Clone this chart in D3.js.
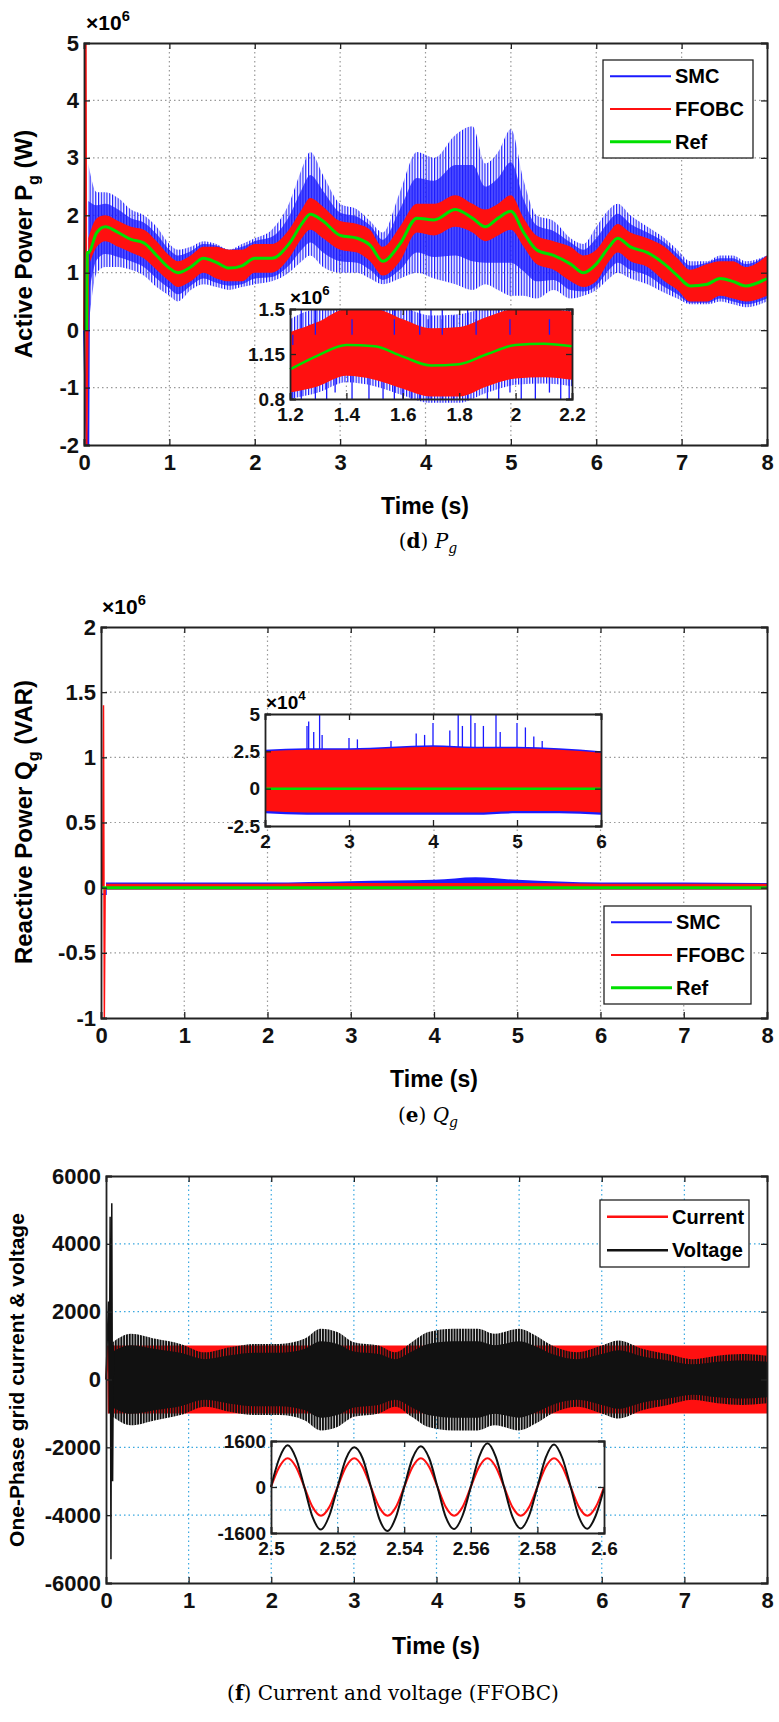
<!DOCTYPE html>
<html><head><meta charset="utf-8">
<script src="https://cdn.jsdelivr.net/npm/d3@7"></script>
<style>
body{margin:0;background:#fff}
text{font-family:"Liberation Sans",Arial,sans-serif;font-weight:bold}
.cap{font-family:"DejaVu Serif","Liberation Serif",serif;font-weight:normal}
</style></head><body>
<script>
// ---- panel d: active power (x1e6)
const dTime = [0.05,0.15,0.25,0.4,0.55,0.7,0.85,1.0,1.1,1.25,1.4,1.55,1.7,1.85,2.0,2.2,2.4,2.55,2.65,2.8,3.0,3.2,3.35,3.5,3.7,3.9,4.1,4.35,4.55,4.7,4.85,5.0,5.15,5.3,5.5,5.7,5.85,6.0,6.15,6.25,6.4,6.6,6.8,6.95,7.1,7.3,7.45,7.6,7.75,8.0]
const dRef  = [1.35,1.7,1.8,1.7,1.58,1.52,1.3,1.08,1.0,1.1,1.25,1.18,1.08,1.12,1.25,1.25,1.5,1.85,2.02,1.9,1.65,1.6,1.48,1.2,1.5,1.95,1.92,2.1,1.95,1.8,1.95,2.07,1.7,1.4,1.3,1.15,1.0,1.15,1.45,1.6,1.45,1.35,1.15,0.95,0.77,0.8,0.9,0.85,0.77,0.9]
const dSmcHi= [2.9,2.4,2.4,2.3,2.1,2.0,1.8,1.5,1.4,1.45,1.55,1.5,1.4,1.5,1.6,1.75,2.2,2.8,3.1,2.7,2.2,2.1,1.9,1.7,2.4,3.1,3.0,3.4,3.55,2.9,3.1,3.5,2.6,2.0,1.9,1.6,1.5,1.8,2.1,2.2,2.0,1.8,1.6,1.4,1.2,1.2,1.3,1.3,1.2,1.3]
const dSmcLo= [0.0,1.0,1.1,1.1,1.05,0.95,0.75,0.6,0.5,0.7,0.8,0.75,0.7,0.75,0.8,0.85,1.0,1.2,1.3,1.1,1.0,1.0,0.9,0.8,0.9,1.0,0.9,0.8,0.7,0.8,0.7,0.6,0.6,0.55,0.7,0.55,0.6,0.7,0.9,1.0,0.9,0.8,0.65,0.55,0.45,0.45,0.5,0.45,0.4,0.5]
const dFfHi = [1.6,1.95,2.0,1.9,1.8,1.75,1.55,1.3,1.2,1.3,1.45,1.45,1.4,1.4,1.5,1.5,1.75,2.1,2.3,2.15,1.9,1.85,1.75,1.45,1.8,2.2,2.2,2.35,2.2,2.1,2.2,2.35,1.95,1.65,1.55,1.45,1.3,1.4,1.7,1.85,1.7,1.6,1.45,1.25,1.05,1.15,1.2,1.2,1.1,1.3]
const dFfLo = [1.1,1.45,1.55,1.45,1.35,1.25,1.05,0.85,0.75,0.85,1.0,0.9,0.85,0.85,1.0,1.0,1.25,1.6,1.75,1.6,1.4,1.35,1.2,0.95,1.2,1.7,1.65,1.8,1.7,1.55,1.65,1.75,1.45,1.15,1.05,0.85,0.75,0.85,1.2,1.35,1.2,1.1,0.85,0.7,0.5,0.5,0.6,0.55,0.5,0.6]
const dStartRed  = [[0,0],[0.02,5],[0.03,-2],[0.05,1.35]]
const dStartBlue = [[0,0],[0.03,-2],[0.05,-2],[0.06,1.4]]
// inset d
const diTime = [1.2,1.3,1.4,1.5,1.6,1.7,1.8,1.9,2.0,2.1,2.2]
const diRef  = [1.03,1.14,1.22,1.21,1.13,1.06,1.07,1.15,1.22,1.23,1.21]
const diFfHi = [1.32,1.4,1.5,1.5,1.42,1.35,1.36,1.44,1.5,1.5,1.48]
const diFfLo = [0.85,0.9,0.98,0.95,0.88,0.82,0.82,0.9,0.96,0.97,0.95]
const diSpikeT  = [1.21,1.24,1.27,1.29,1.33,1.36,1.42,1.48,1.53,1.57,1.6,1.63,1.66,1.69,1.7,1.74,1.78,1.83,1.86,1.9,1.94,1.98,2.02,2.07,2.12,2.16,2.19]
const diSpikeHi = [1.3,1.5,1.38,1.5,1.35,1.42,1.5,1.45,1.5,1.5,1.4,1.5,1.5,1.42,1.5,1.5,1.45,1.5,1.5,1.38,1.5,1.5,1.5,1.5,1.5,1.5,1.5]
const diSpikeLo = [0.8,0.8,0.9,0.8,0.8,0.85,0.8,0.8,0.8,0.8,0.8,0.8,0.8,0.8,0.8,0.8,0.8,0.8,0.9,0.8,0.8,0.85,0.8,0.8,0.85,0.8,0.8]

// ---- panel e: reactive power (x1e6)
const eTime = [0.06,1,2,3,4,4.5,5,6,7,8]
const eFfHi = [0.03,0.03,0.03,0.035,0.035,0.035,0.035,0.03,0.03,0.03]
const eFfLo = [-0.015,-0.015,-0.015,-0.015,-0.015,-0.015,-0.015,-0.015,-0.015,-0.015]
const eSmcHi= [0.04,0.04,0.04,0.05,0.06,0.08,0.06,0.04,0.04,0.035]
const eStartRed  = [[0.02,0],[0.03,1.4],[0.04,-1],[0.05,0]]
const eStartBlue = [[0,-0.05],[0.06,-0.05],[0.06,0]]
// inset e (x1e4)
const eiTime = [2,2.5,3,3.5,4,4.5,5,5.5,6]
const eiFfHi = [2.5,2.6,2.6,2.7,2.8,2.7,2.7,2.6,2.4]
const eiFfLo = [-1.5,-1.6,-1.6,-1.6,-1.6,-1.6,-1.5,-1.5,-1.6]
const eiSpikeT = [2.5,2.52,2.58,2.65,2.68,3.0,3.1,3.5,3.8,3.9,4.0,4.2,4.3,4.35,4.45,4.5,4.6,4.75,4.8,5.0,5.1,5.2,5.3]
const eiSpikeV = [4.2,4.5,3.8,5,3.6,3.4,3.3,3.2,3.7,3.6,4.4,3.9,5,4.2,5,4.4,4.2,5,3.8,4.4,4.1,3.5,3.2]

// ---- panel f: grid current / voltage
const fTime = [0.08,0.3,0.6,0.9,1.2,1.5,1.8,2.1,2.4,2.6,2.8,3.0,3.3,3.5,3.7,3.9,4.2,4.5,4.7,5.0,5.2,5.4,5.7,6.0,6.2,6.5,6.8,7.1,7.4,7.7,8.0]
const fVolt = [1100,1350,1200,1050,800,950,1050,1050,1200,1500,1400,1100,1000,800,1100,1400,1500,1500,1350,1500,1300,1000,800,1000,1150,900,750,600,700,750,700]
const fCurr = [1000,1000,1000,1000,1000,1000,1000,1000,1000,1000,1000,1000,1000,1000,1000,1000,1000,1000,1000,1000,1000,1000,1000,1000,1000,1000,1000,1000,1000,1000,1000]
const fStartV = [[0,0],[0.03,2300],[0.04,-1000],[0.05,4800],[0.06,-5300],[0.07,5200],[0.08,-3000],[0.09,1000]]
// inset f (samples every 2.5 ms)
const fiTime = d3.range(41).map(i => 2.5 + i * 0.0025)
const fiCurr = [0,700,1000,700,0,-700,-1000,-700,0,700,1000,700,0,-700,-1000,-700,0,700,1000,700,0,-700,-1000,-700,0,700,1000,700,0,-700,-1000,-700,0,700,1000,700,0,-700,-1000,-700,0]
const fiVolt = [0,1000,1450,1000,0,-1050,-1480,-1000,0,980,1380,1000,0,-1100,-1530,-1050,0,1000,1420,1000,0,-1050,-1460,-1000,0,1050,1520,1050,0,-1030,-1440,-1000,0,1020,1480,1000,0,-1050,-1450,-1000,-50]

const svg = d3.select('body').append('svg').attr('width', 779).attr('height', 1722)

// striped fills to mimic dense switching noise
const defs = svg.append('defs')
function stripes(id, col, w, gap) {
  const p = defs.append('pattern').attr('id', id).attr('patternUnits', 'userSpaceOnUse').attr('width', w + gap).attr('height', 10)
  p.append('rect').attr('width', w).attr('height', 10).attr('fill', col)
}
stripes('blueNoise', '#1a1aff', 1.2, 1.6)
stripes('blackNoise', '#111', 2, 0.8)

function panel(o) {
  const x = d3.scaleLinear().domain(o.xd).range([o.l, o.r])
  const y = d3.scaleLinear().domain(o.yd).range([o.b, o.t])
  const g = svg.append('g')
  if (o.grid) {
    g.selectAll('.gx').data(o.xt.slice(1, -1)).enter().append('line')
      .attr('x1', d => x(d)).attr('x2', d => x(d)).attr('y1', o.t).attr('y2', o.b)
      .attr('stroke', o.grid).attr('stroke-dasharray', '1.5,3').attr('stroke-width', 1.2)
    g.selectAll('.gy').data(o.yt.slice(1, -1)).enter().append('line')
      .attr('y1', d => y(d)).attr('y2', d => y(d)).attr('x1', o.l).attr('x2', o.r)
      .attr('stroke', o.grid).attr('stroke-dasharray', '1.5,3').attr('stroke-width', 1.2)
  }
  return {x, y, g}
}
function frame(o, p, fs) {
  p.g.append('g').attr('transform', `translate(0,${o.b})`)
    .call(d3.axisBottom(p.x).tickValues(o.xt).tickSize(-6).tickPadding(9).tickFormat(d => d))
  p.g.append('g').attr('transform', `translate(${o.l},0)`)
    .call(d3.axisLeft(p.y).tickValues(o.yt).tickSize(-6).tickPadding(5).tickFormat(d => d))
  p.g.append('g').attr('transform', `translate(0,${o.t})`)
    .call(d3.axisTop(p.x).tickValues(o.xt).tickSize(-6).tickFormat(''))
  p.g.append('g').attr('transform', `translate(${o.r},0)`)
    .call(d3.axisRight(p.y).tickValues(o.yt).tickSize(-6).tickFormat(''))
  p.g.selectAll('.domain').attr('stroke', '#222').attr('stroke-width', 1.8)
  p.g.selectAll('.tick line').attr('stroke', '#222').attr('stroke-width', 1.3)
  p.g.selectAll('.tick text').attr('font-size', fs).attr('font-family', '"Liberation Sans",Arial').attr('font-weight', 'bold').attr('fill', '#111')
}
function band(p, t, hi, lo, col, op) {
  p.g.append('path').datum(t.map((d, i) => [d, hi[i], lo[i]]))
    .attr('d', d3.area().x(d => p.x(d[0])).y0(d => p.y(d[2])).y1(d => p.y(d[1])).curve(d3.curveMonotoneX))
    .attr('fill', col).attr('opacity', op || 1)
}
function line(p, pts, col, w, curve) {
  p.g.append('path').datum(pts)
    .attr('d', d3.line().x(d => p.x(d[0])).y(d => p.y(d[1])).curve(curve || d3.curveLinear))
    .attr('fill', 'none').attr('stroke', col).attr('stroke-width', w)
}
function spikes(p, t, a, b, col) {
  p.g.selectAll(null).data(t.map((d, i) => [d, a[i], b[i]])).enter().append('line')
    .attr('x1', d => p.x(d[0])).attr('x2', d => p.x(d[0])).attr('y1', d => p.y(d[1])).attr('y2', d => p.y(d[2]))
    .attr('stroke', col).attr('stroke-width', 1.3)
}
function whiteBox(o) {
  svg.append('rect').attr('x', o.l).attr('y', o.t).attr('width', o.r - o.l).attr('height', o.b - o.t).attr('fill', '#fff')
}
function legend(x0, y0, w, h, items) {
  const g = svg.append('g')
  g.append('rect').attr('x', x0).attr('y', y0).attr('width', w).attr('height', h).attr('fill', '#fff').attr('stroke', '#222').attr('stroke-width', 1.3)
  items.forEach((it, i) => {
    const yy = y0 + h / (items.length) * (i + 0.5)
    g.append('line').attr('x1', x0 + 7).attr('x2', x0 + 68).attr('y1', yy).attr('y2', yy).attr('stroke', it[1]).attr('stroke-width', it[2])
    g.append('text').attr('x', x0 + 72).attr('y', yy + 7).attr('font-size', 20).text(it[0])
  })
}
function ylabel(x, y, parts, fs) {
  const t = svg.append('text').attr('transform', `translate(${x},${y}) rotate(-90)`).attr('text-anchor', 'middle').attr('font-size', fs)
  parts.forEach(pp => { const s = t.append('tspan').text(pp[0]); if (pp[1]) s.attr('font-size', fs * 0.67).attr('dy', 7); if (pp[2]) s.attr('dy', -7) })
}
function mult(x, y, e, fs) {
  const t = svg.append('text').attr('x', x).attr('y', y).attr('font-size', fs).attr('font-weight', 'normal')
  t.append('tspan').text('×10')
  t.append('tspan').text(e).attr('font-size', fs * 0.7).attr('dy', -fs * 0.45)
}
function xlabel(x, y) { svg.append('text').attr('x', x).attr('y', y).attr('text-anchor', 'middle').attr('font-size', 23).text('Time (s)') }

// ===== panel d
const od = {l: 84, r: 767, t: 43, b: 445, xd: [0, 8], yd: [-2, 5], xt: d3.range(0, 9), yt: d3.range(-2, 6), grid: '#999'}
const pd = panel(od)
band(pd, dTime, dSmcHi, dSmcLo, 'url(#blueNoise)')
band(pd, dTime, dSmcHi.map((v, i) => (v + dFfHi[i]) / 2), dSmcLo.map((v, i) => (v + dFfLo[i]) / 2), '#1a1aff', 0.75)
band(pd, dTime, dFfHi, dFfLo, '#ff1010')
line(pd, dStartBlue, '#1a1aff', 2)
line(pd, dStartRed, '#ff1010', 2)
line(pd, [[0.03, 0], [0.04, 1.35]].concat(dTime.map((d, i) => [d, dRef[i]])), '#00e000', 3, d3.curveMonotoneX)
frame(od, pd, 22)
mult(86, 30, '6', 21)
ylabel(32, 244, [['Active Power P'], ['g', 1], [' (W)', 0, 1]], 24)
xlabel(425, 514)
legend(603, 60, 150, 98, [['SMC', '#1a1aff', 2], ['FFOBC', '#ff1010', 2], ['Ref', '#00e000', 3]])
// inset d
const oid = {l: 290, r: 572, t: 309, b: 399, xd: [1.2, 2.2], yd: [0.8, 1.5], xt: [1.2, 1.4, 1.6, 1.8, 2, 2.2], yt: [0.8, 1.15, 1.5], grid: '#999'}
whiteBox(oid)
const pid = panel(oid)
band(pid, diTime, diFfHi.map(v => Math.min(1.5, v + 0.1)), diFfLo.map(v => v - 0.05), 'url(#blueNoise)')
spikes(pid, diSpikeT, diSpikeHi, diSpikeLo, '#1a1aff')
band(pid, diTime, diFfHi, diFfLo, '#ff1010')
const keep = (d, i) => i % 3 === 0
spikes(pid, diSpikeT.filter(keep), diSpikeHi.filter(keep).map(v => v - 0.08), diSpikeT.filter(keep).map(() => 1.3), '#1a1aff')
line(pid, diTime.map((d, i) => [d, diRef[i]]), '#00e000', 2.5, d3.curveMonotoneX)
frame(oid, pid, 19)
mult(290, 304, '6', 19)

// ===== panel e
const oe = {l: 101, r: 767, t: 627, b: 1018, xd: [0, 8], yd: [-1, 2], xt: d3.range(0, 9), yt: [-1, -0.5, 0, 0.5, 1, 1.5, 2], grid: '#999'}
const pe = panel(oe)
band(pe, eTime, eSmcHi, eFfLo, '#1a1aff')
band(pe, eTime, eFfHi, eFfLo, '#ff1010')
line(pe, eStartBlue, '#1a1aff', 1.5)
line(pe, eStartRed, '#ff1010', 1.5)
line(pe, [[0, 0], [8, 0]], '#00e000', 3)
frame(oe, pe, 22)
mult(102, 614, '6', 21)
ylabel(32, 822, [['Reactive Power Q'], ['g', 1], [' (VAR)', 0, 1]], 24)
xlabel(434, 1087)
legend(604, 906, 147, 98, [['SMC', '#1a1aff', 2], ['FFOBC', '#ff1010', 2], ['Ref', '#00e000', 3]])
// inset e
const oie = {l: 265, r: 601, t: 714, b: 826, xd: [2, 6], yd: [-2.5, 5], xt: [2, 3, 4, 5, 6], yt: [-2.5, 0, 2.5, 5], grid: null}
whiteBox(oie)
const pie = panel(oie)
spikes(pie, eiSpikeT, eiSpikeV, eiSpikeV.map(() => 2), '#1a1aff')
band(pie, eiTime, eiFfHi.map(v => v + 0.1), eiFfLo.map(v => v - 0.15), '#1a1aff')
band(pie, eiTime, eiFfHi, eiFfLo, '#ff1010')
line(pie, [[2, 0], [6, 0]], '#00e000', 2.5)
frame(oie, pie, 19)
mult(266, 709, '4', 19)

// ===== panel f
const of = {l: 106, r: 767, t: 1176, b: 1583, xd: [0, 8], yd: [-6000, 6000], xt: d3.range(0, 9), yt: d3.range(-6000, 6001, 2000), grid: '#3aa8e0'}
const pf = panel(of)
band(pf, fTime, fCurr, fCurr.map(v => -v), '#ff1010')
band(pf, fTime, fVolt, fVolt.map(v => -v), 'url(#blackNoise)')
band(pf, fTime, fVolt.map(v => v * 0.75), fVolt.map(v => -v * 0.75), '#111')
line(pf, [[0, 0], [0.02, 1000], [0.03, -1000], [0.04, 1000]], '#ff1010', 1.5)
line(pf, fStartV, '#111', 1.5)
frame(of, pf, 22)
ylabel(24, 1380, [['One-Phase grid current & voltage']], 21)
xlabel(436, 1654)
legend(600, 1200, 149, 67, [['Current', '#ff1010', 2.5], ['Voltage', '#111', 2.5]])
// inset f
const oif = {l: 271, r: 604, t: 1441, b: 1533, xd: [2.5, 2.6], yd: [-1600, 1600], xt: [2.5, 2.52, 2.54, 2.56, 2.58, 2.6], yt: [-1600, 0, 1600], grid: '#3aa8e0'}
whiteBox(oif)
const pif = panel(oif)
pif.g.selectAll(null).data([-800, 800]).enter().append('line').attr('x1', oif.l).attr('x2', oif.r)
  .attr('y1', d => pif.y(d)).attr('y2', d => pif.y(d)).attr('stroke', '#3aa8e0').attr('stroke-dasharray', '1.5,3')
line(pif, fiTime.map((d, i) => [d, fiCurr[i]]), '#ff1010', 2, d3.curveCardinal)
line(pif, fiTime.map((d, i) => [d, fiVolt[i]]), '#111', 2, d3.curveCardinal)
frame(oif, pif, 19)

// captions
const cap = (x, y) => svg.append('text').attr('class', 'cap').attr('x', x).attr('y', y).attr('text-anchor', 'middle').attr('font-size', 20)
const c1 = cap(428, 548); c1.append('tspan').text('('); c1.append('tspan').text('d').attr('font-weight', 'bold'); c1.append('tspan').text(')  '); c1.append('tspan').text('P').attr('font-style', 'italic'); c1.append('tspan').text('g').attr('font-style', 'italic').attr('font-size', 14).attr('dy', 5)
const c2 = cap(428, 1122); c2.append('tspan').text('('); c2.append('tspan').text('e').attr('font-weight', 'bold'); c2.append('tspan').text(')  '); c2.append('tspan').text('Q').attr('font-style', 'italic'); c2.append('tspan').text('g').attr('font-style', 'italic').attr('font-size', 14).attr('dy', 5)
const c3 = cap(393, 1700); c3.append('tspan').text('('); c3.append('tspan').text('f').attr('font-weight', 'bold'); c3.append('tspan').text(') Current and voltage (FFOBC)')
</script></body></html>
